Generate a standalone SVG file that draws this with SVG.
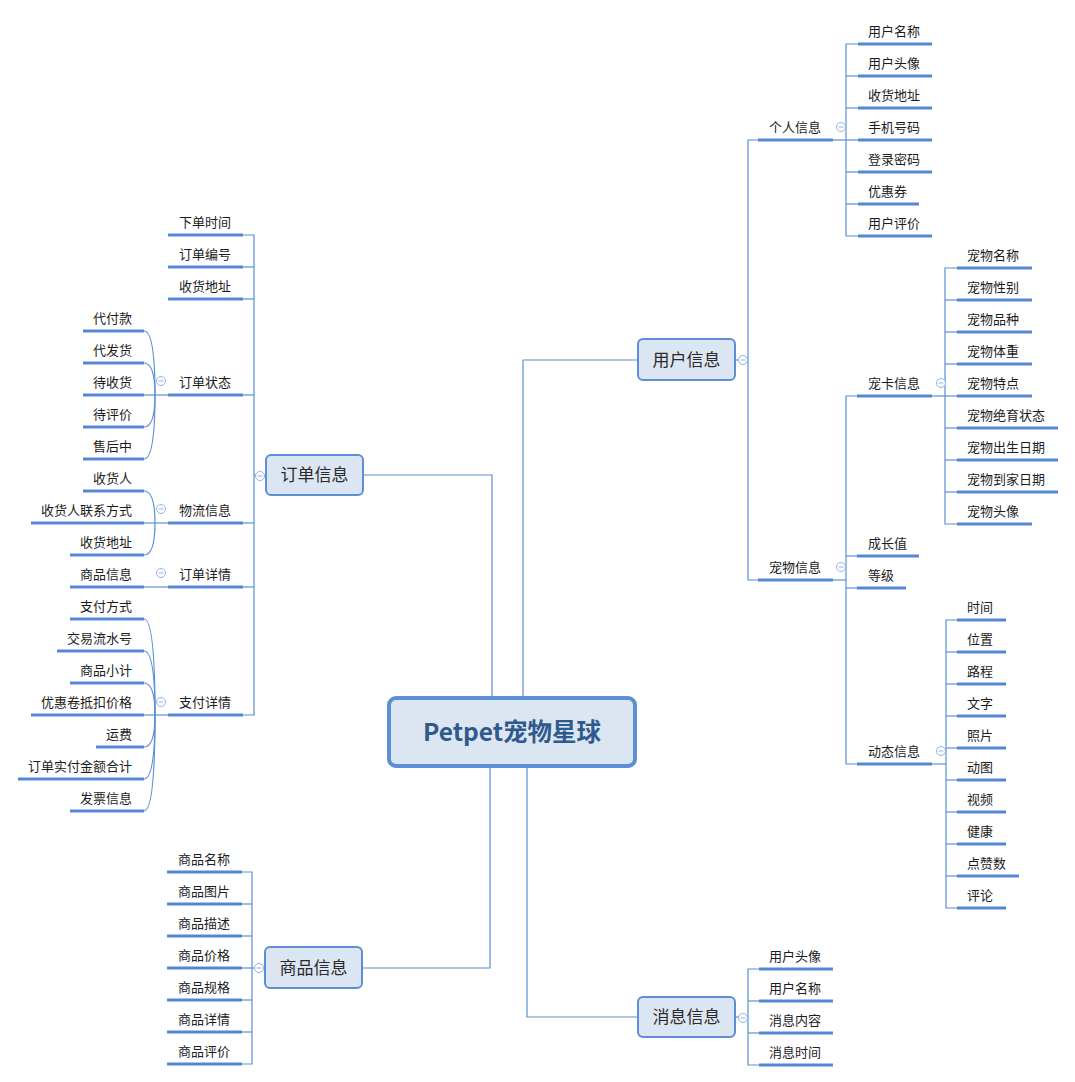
<svg xmlns="http://www.w3.org/2000/svg" xmlns:xlink="http://www.w3.org/1999/xlink" width="1075" height="1082" viewBox="0 0 1075 1082">
<style>
.ln{fill:none;stroke:#5b8fd6;stroke-width:1.2}
.ul{stroke:#5588d4;stroke-width:3}
.t{font-family:"Noto Sans CJK SC","Noto Sans",sans-serif;font-size:13px;fill:#1c1c1c}
.e{text-anchor:end}
.bt{font-family:"Noto Sans CJK SC","Noto Sans",sans-serif;font-size:17px;fill:#2a2a2a;text-anchor:middle}
.box{fill:#dce5f2;stroke:#5b8fd6;stroke-width:2}
.col circle{fill:#fff;stroke:#93b3e3;stroke-width:1}
.col line{stroke:#93b3e3;stroke-width:1}
</style>
<defs>
<g id="cb" class="col"><circle r="4.5"/><line x1="-2.5" y1="0" x2="2.5" y2="0"/></g>
</defs>
<rect width="1075" height="1082" fill="#fff"/>

<g id="connectors">
<!-- center to branches -->
<polyline class="ln" points="492,697 492,475 363,475"/>
<polyline class="ln" points="490,767 490,968 362,968"/>
<polyline class="ln" points="523,697 523,360 637,360"/>
<polyline class="ln" points="527,767 527,1017 637,1017"/>
<!-- user info -->
<line class="ln" x1="736" y1="360" x2="748" y2="360"/>
<polyline class="ln" points="758,140 748,140 748,580 758,580"/>
<!-- personal info children -->
<polyline class="ln" points="833,140 846,140"/>
<polyline class="ln" points="858,44 846,44 846,236 858,236"/>
<line class="ln" x1="846" y1="76" x2="858" y2="76"/>
<line class="ln" x1="846" y1="108" x2="858" y2="108"/>
<line class="ln" x1="846" y1="140" x2="858" y2="140"/>
<line class="ln" x1="846" y1="172" x2="858" y2="172"/>
<line class="ln" x1="846" y1="204" x2="858" y2="204"/>
<!-- pet info children -->
<line class="ln" x1="833" y1="580" x2="846" y2="580"/>
<polyline class="ln" points="857,396 846,396 846,764 857,764"/>
<line class="ln" x1="846" y1="556" x2="857" y2="556"/>
<line class="ln" x1="846" y1="588" x2="857" y2="588"/>
<!-- pet card children -->
<line class="ln" x1="932" y1="396" x2="945" y2="396"/>
<polyline class="ln" points="957,268 945,268 945,524 957,524"/>
<line class="ln" x1="945" y1="300" x2="957" y2="300"/>
<line class="ln" x1="945" y1="332" x2="957" y2="332"/>
<line class="ln" x1="945" y1="364" x2="957" y2="364"/>
<line class="ln" x1="945" y1="396" x2="957" y2="396"/>
<line class="ln" x1="945" y1="428" x2="957" y2="428"/>
<line class="ln" x1="945" y1="460" x2="957" y2="460"/>
<line class="ln" x1="945" y1="492" x2="957" y2="492"/>
<!-- dynamic children -->
<line class="ln" x1="932" y1="764" x2="946" y2="764"/>
<polyline class="ln" points="957,620 946,620 946,908 957,908"/>
<line class="ln" x1="946" y1="652" x2="957" y2="652"/>
<line class="ln" x1="946" y1="684" x2="957" y2="684"/>
<line class="ln" x1="946" y1="716" x2="957" y2="716"/>
<line class="ln" x1="946" y1="748" x2="957" y2="748"/>
<line class="ln" x1="946" y1="780" x2="957" y2="780"/>
<line class="ln" x1="946" y1="812" x2="957" y2="812"/>
<line class="ln" x1="946" y1="844" x2="957" y2="844"/>
<line class="ln" x1="946" y1="876" x2="957" y2="876"/>
<!-- message children -->
<line class="ln" x1="736" y1="1017" x2="748" y2="1017"/>
<polyline class="ln" points="759,969 748,969 748,1065 759,1065"/>
<line class="ln" x1="748" y1="1001" x2="759" y2="1001"/>
<line class="ln" x1="748" y1="1033" x2="759" y2="1033"/>
<!-- order children -->
<line class="ln" x1="254" y1="475" x2="266" y2="475"/>
<polyline class="ln" points="243,235 254,235 254,715 243,715"/>
<line class="ln" x1="243" y1="267" x2="254" y2="267"/>
<line class="ln" x1="243" y1="299" x2="254" y2="299"/>
<line class="ln" x1="243" y1="395" x2="254" y2="395"/>
<line class="ln" x1="243" y1="523" x2="254" y2="523"/>
<line class="ln" x1="243" y1="587" x2="254" y2="587"/>
<!-- order status curves -->
<line class="ln" x1="144" y1="395" x2="168" y2="395"/>
<path class="ln" d="M144,331 Q155,331 155,395"/>
<path class="ln" d="M144,363 Q155,363 155,395"/>
<path class="ln" d="M144,427 Q155,427 155,395"/>
<path class="ln" d="M144,459 Q155,459 155,395"/>
<!-- logistics curves -->
<line class="ln" x1="144" y1="523" x2="168" y2="523"/>
<path class="ln" d="M144,491 Q155,491 155,523"/>
<path class="ln" d="M144,555 Q155,555 155,523"/>
<!-- order detail -->
<line class="ln" x1="144" y1="587" x2="168" y2="587"/>
<!-- payment curves -->
<line class="ln" x1="144" y1="715" x2="168" y2="715"/>
<path class="ln" d="M144,619 Q155,619 155,715"/>
<path class="ln" d="M144,651 Q155,651 155,715"/>
<path class="ln" d="M144,683 Q155,683 155,715"/>
<path class="ln" d="M144,747 Q155,747 155,715"/>
<path class="ln" d="M144,779 Q155,779 155,715"/>
<path class="ln" d="M144,811 Q155,811 155,715"/>
<!-- product children -->
<line class="ln" x1="252" y1="968" x2="265" y2="968"/>
<polyline class="ln" points="242,872 252,872 252,1064 242,1064"/>
<line class="ln" x1="242" y1="904" x2="252" y2="904"/>
<line class="ln" x1="242" y1="936" x2="252" y2="936"/>
<line class="ln" x1="242" y1="968" x2="252" y2="968"/>
<line class="ln" x1="242" y1="1000" x2="252" y2="1000"/>
<line class="ln" x1="242" y1="1032" x2="252" y2="1032"/>
</g>

<!-- central -->
<g id="n-center">
<rect x="389" y="698" width="246" height="68" rx="7" fill="#dce5f2" stroke="#5b8fd6" stroke-width="4"/>
<text x="512" y="741" text-anchor="middle" font-family="'Noto Sans CJK SC','Noto Sans',sans-serif" font-size="24.5" font-weight="bold" fill="#2f5a8e">Petpet宠物星球</text>
</g>

<!-- main branches -->
<g id="n-user"><rect class="box" x="638" y="339" width="97" height="41" rx="5"/><text class="bt" x="686.5" y="366">用户信息</text><use xlink:href="#cb" x="743" y="360"/></g>
<g id="n-msg"><rect class="box" x="638" y="997" width="97" height="40" rx="5"/><text class="bt" x="686.5" y="1023">消息信息</text><use xlink:href="#cb" x="743" y="1018"/></g>
<g id="n-order"><rect class="box" x="266" y="455" width="97" height="40" rx="5"/><text class="bt" x="314.5" y="481">订单信息</text><use xlink:href="#cb" x="260" y="476"/></g>
<g id="n-product"><rect class="box" x="265" y="947" width="97" height="41" rx="5"/><text class="bt" x="313.5" y="974">商品信息</text><use xlink:href="#cb" x="259" y="968"/></g>

<!-- user info subtree -->
<g id="n-personal"><line class="ul" x1="758" y1="140" x2="833" y2="140"/><text class="t" x="769" y="132">个人信息</text><use xlink:href="#cb" x="841" y="127"/></g>
<g id="n-p1"><line class="ul" x1="858" y1="44" x2="932" y2="44"/><text class="t" x="868" y="36">用户名称</text></g>
<g id="n-p2"><line class="ul" x1="858" y1="76" x2="932" y2="76"/><text class="t" x="868" y="68">用户头像</text></g>
<g id="n-p3"><line class="ul" x1="858" y1="108" x2="932" y2="108"/><text class="t" x="868" y="100">收货地址</text></g>
<g id="n-p4"><line class="ul" x1="858" y1="140" x2="932" y2="140"/><text class="t" x="868" y="132">手机号码</text></g>
<g id="n-p5"><line class="ul" x1="858" y1="172" x2="932" y2="172"/><text class="t" x="868" y="164">登录密码</text></g>
<g id="n-p6"><line class="ul" x1="858" y1="204" x2="919" y2="204"/><text class="t" x="868" y="196">优惠券</text></g>
<g id="n-p7"><line class="ul" x1="858" y1="236" x2="932" y2="236"/><text class="t" x="868" y="228">用户评价</text></g>

<g id="n-pet"><line class="ul" x1="758" y1="580" x2="833" y2="580"/><text class="t" x="769" y="572">宠物信息</text><use xlink:href="#cb" x="841" y="567"/></g>
<g id="n-petcard"><line class="ul" x1="857" y1="396" x2="932" y2="396"/><text class="t" x="868" y="388">宠卡信息</text><use xlink:href="#cb" x="941" y="383"/></g>
<g id="n-c1"><line class="ul" x1="957" y1="268" x2="1032" y2="268"/><text class="t" x="967" y="260">宠物名称</text></g>
<g id="n-c2"><line class="ul" x1="957" y1="300" x2="1032" y2="300"/><text class="t" x="967" y="292">宠物性别</text></g>
<g id="n-c3"><line class="ul" x1="957" y1="332" x2="1032" y2="332"/><text class="t" x="967" y="324">宠物品种</text></g>
<g id="n-c4"><line class="ul" x1="957" y1="364" x2="1032" y2="364"/><text class="t" x="967" y="356">宠物体重</text></g>
<g id="n-c5"><line class="ul" x1="957" y1="396" x2="1032" y2="396"/><text class="t" x="967" y="388">宠物特点</text></g>
<g id="n-c6"><line class="ul" x1="957" y1="428" x2="1058" y2="428"/><text class="t" x="967" y="420">宠物绝育状态</text></g>
<g id="n-c7"><line class="ul" x1="957" y1="460" x2="1058" y2="460"/><text class="t" x="967" y="452">宠物出生日期</text></g>
<g id="n-c8"><line class="ul" x1="957" y1="492" x2="1058" y2="492"/><text class="t" x="967" y="484">宠物到家日期</text></g>
<g id="n-c9"><line class="ul" x1="957" y1="524" x2="1032" y2="524"/><text class="t" x="967" y="516">宠物头像</text></g>
<g id="n-growth"><line class="ul" x1="857" y1="556" x2="919" y2="556"/><text class="t" x="868" y="548">成长值</text></g>
<g id="n-level"><line class="ul" x1="857" y1="588" x2="906" y2="588"/><text class="t" x="868" y="580">等级</text></g>
<g id="n-dyn"><line class="ul" x1="857" y1="764" x2="932" y2="764"/><text class="t" x="868" y="756">动态信息</text><use xlink:href="#cb" x="941" y="751"/></g>
<g id="n-d1"><line class="ul" x1="957" y1="620" x2="1006" y2="620"/><text class="t" x="967" y="612">时间</text></g>
<g id="n-d2"><line class="ul" x1="957" y1="652" x2="1006" y2="652"/><text class="t" x="967" y="644">位置</text></g>
<g id="n-d3"><line class="ul" x1="957" y1="684" x2="1006" y2="684"/><text class="t" x="967" y="676">路程</text></g>
<g id="n-d4"><line class="ul" x1="957" y1="716" x2="1006" y2="716"/><text class="t" x="967" y="708">文字</text></g>
<g id="n-d5"><line class="ul" x1="957" y1="748" x2="1006" y2="748"/><text class="t" x="967" y="740">照片</text></g>
<g id="n-d6"><line class="ul" x1="957" y1="780" x2="1006" y2="780"/><text class="t" x="967" y="772">动图</text></g>
<g id="n-d7"><line class="ul" x1="957" y1="812" x2="1006" y2="812"/><text class="t" x="967" y="804">视频</text></g>
<g id="n-d8"><line class="ul" x1="957" y1="844" x2="1006" y2="844"/><text class="t" x="967" y="836">健康</text></g>
<g id="n-d9"><line class="ul" x1="957" y1="876" x2="1019" y2="876"/><text class="t" x="967" y="868">点赞数</text></g>
<g id="n-d10"><line class="ul" x1="957" y1="908" x2="1006" y2="908"/><text class="t" x="967" y="900">评论</text></g>

<!-- message subtree -->
<g id="n-m1"><line class="ul" x1="759" y1="969" x2="833" y2="969"/><text class="t" x="769" y="961">用户头像</text></g>
<g id="n-m2"><line class="ul" x1="759" y1="1001" x2="833" y2="1001"/><text class="t" x="769" y="993">用户名称</text></g>
<g id="n-m3"><line class="ul" x1="759" y1="1033" x2="833" y2="1033"/><text class="t" x="769" y="1025">消息内容</text></g>
<g id="n-m4"><line class="ul" x1="759" y1="1065" x2="833" y2="1065"/><text class="t" x="769" y="1057">消息时间</text></g>

<!-- order subtree -->
<g id="n-o1"><line class="ul" x1="168" y1="235" x2="243" y2="235"/><text class="t" x="179" y="227">下单时间</text></g>
<g id="n-o2"><line class="ul" x1="168" y1="267" x2="243" y2="267"/><text class="t" x="179" y="259">订单编号</text></g>
<g id="n-o3"><line class="ul" x1="168" y1="299" x2="243" y2="299"/><text class="t" x="179" y="291">收货地址</text></g>
<g id="n-o4"><line class="ul" x1="168" y1="395" x2="243" y2="395"/><text class="t" x="179" y="387">订单状态</text><use xlink:href="#cb" x="161" y="381"/></g>
<g id="n-o5"><line class="ul" x1="168" y1="523" x2="243" y2="523"/><text class="t" x="179" y="515">物流信息</text><use xlink:href="#cb" x="161" y="509"/></g>
<g id="n-o6"><line class="ul" x1="168" y1="587" x2="243" y2="587"/><text class="t" x="179" y="579">订单详情</text><use xlink:href="#cb" x="161" y="573"/></g>
<g id="n-o7"><line class="ul" x1="168" y1="715" x2="243" y2="715"/><text class="t" x="179" y="707">支付详情</text><use xlink:href="#cb" x="161" y="702"/></g>

<g id="n-s1"><line class="ul" x1="83" y1="331" x2="144" y2="331"/><text class="t e" x="132" y="323">代付款</text></g>
<g id="n-s2"><line class="ul" x1="83" y1="363" x2="144" y2="363"/><text class="t e" x="132" y="355">代发货</text></g>
<g id="n-s3"><line class="ul" x1="83" y1="395" x2="144" y2="395"/><text class="t e" x="132" y="387">待收货</text></g>
<g id="n-s4"><line class="ul" x1="83" y1="427" x2="144" y2="427"/><text class="t e" x="132" y="419">待评价</text></g>
<g id="n-s5"><line class="ul" x1="83" y1="459" x2="144" y2="459"/><text class="t e" x="132" y="451">售后中</text></g>

<g id="n-l1"><line class="ul" x1="83" y1="491" x2="144" y2="491"/><text class="t e" x="132" y="483">收货人</text></g>
<g id="n-l2"><line class="ul" x1="31" y1="523" x2="144" y2="523"/><text class="t e" x="132" y="515">收货人联系方式</text></g>
<g id="n-l3"><line class="ul" x1="70" y1="555" x2="144" y2="555"/><text class="t e" x="132" y="547">收货地址</text></g>

<g id="n-od1"><line class="ul" x1="70" y1="587" x2="144" y2="587"/><text class="t e" x="132" y="579">商品信息</text></g>

<g id="n-pay1"><line class="ul" x1="70" y1="619" x2="144" y2="619"/><text class="t e" x="132" y="611">支付方式</text></g>
<g id="n-pay2"><line class="ul" x1="57" y1="651" x2="144" y2="651"/><text class="t e" x="132" y="643">交易流水号</text></g>
<g id="n-pay3"><line class="ul" x1="70" y1="683" x2="144" y2="683"/><text class="t e" x="132" y="675">商品小计</text></g>
<g id="n-pay4"><line class="ul" x1="31" y1="715" x2="144" y2="715"/><text class="t e" x="132" y="707">优惠卷抵扣价格</text></g>
<g id="n-pay5"><line class="ul" x1="96" y1="747" x2="144" y2="747"/><text class="t e" x="132" y="739">运费</text></g>
<g id="n-pay6"><line class="ul" x1="18" y1="779" x2="144" y2="779"/><text class="t e" x="132" y="771">订单实付金额合计</text></g>
<g id="n-pay7"><line class="ul" x1="70" y1="811" x2="144" y2="811"/><text class="t e" x="132" y="803">发票信息</text></g>

<!-- product subtree -->
<g id="n-g1"><line class="ul" x1="167" y1="872" x2="242" y2="872"/><text class="t" x="178" y="864">商品名称</text></g>
<g id="n-g2"><line class="ul" x1="167" y1="904" x2="242" y2="904"/><text class="t" x="178" y="896">商品图片</text></g>
<g id="n-g3"><line class="ul" x1="167" y1="936" x2="242" y2="936"/><text class="t" x="178" y="928">商品描述</text></g>
<g id="n-g4"><line class="ul" x1="167" y1="968" x2="242" y2="968"/><text class="t" x="178" y="960">商品价格</text></g>
<g id="n-g5"><line class="ul" x1="167" y1="1000" x2="242" y2="1000"/><text class="t" x="178" y="992">商品规格</text></g>
<g id="n-g6"><line class="ul" x1="167" y1="1032" x2="242" y2="1032"/><text class="t" x="178" y="1024">商品详情</text></g>
<g id="n-g7"><line class="ul" x1="167" y1="1064" x2="242" y2="1064"/><text class="t" x="178" y="1056">商品评价</text></g>
</svg>
